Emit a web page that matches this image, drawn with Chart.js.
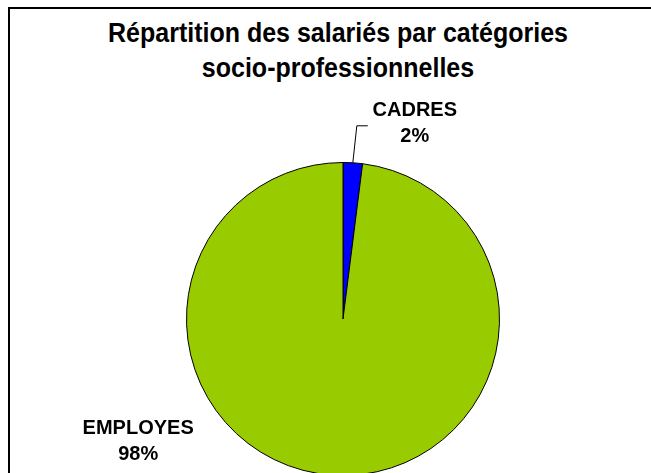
<!DOCTYPE html>
<html lang="fr">
<head>
<meta charset="utf-8">
<title>Répartition des salariés</title>
<script src="https://cdn.jsdelivr.net/npm/chart.js@4/dist/chart.umd.min.js"></script>
<style>
    html, body { margin: 0; padding: 0; background: #fff; overflow: hidden; }
    body { width: 651px; height: 473px; position: relative; }
    .frame {
        position: absolute; left: 8px; top: 7px; width: 700px; height: 520px;
        border-top: 2px solid #000; border-left: 2px solid #000;
    }
    .chart-title {
        position: absolute; left: 0; top: 15px; width: 676px;
        text-align: center; font: bold 25px "Liberation Sans", Arial, sans-serif;
        line-height: 32px; color: #000;
        transform: scaleY(1.08); transform-origin: top center;
    }
    #pieChart { position: absolute; left: 0; top: 0; }
</style>
</head>
<body>
<div class="frame"></div>
<div class="chart-title">Répartition des salariés par catégories<br>socio-professionnelles</div>
<canvas id="pieChart" width="651" height="490"></canvas>
<script>
// ========== 数据 ==========
const categories = ['CADRES', 'EMPLOYES'];
const shares = [2, 98];
const sliceColors = ['#0000FF', '#99CC00'];

// 标签相对扇区外缘中点的偏移（样式）
const labelOffsets = [
    { dx: 62, dy: -39, leader: true },
    { dx: -195, dy: -34, leader: false }
];

// ========== 扇区标签 ==========
const sliceLabels = {
    id: 'sliceLabels',
    afterDatasetsDraw(chart) {
        const ctx = chart.ctx;
        const meta = chart.getDatasetMeta(0);
        const total = shares.reduce((a, b) => a + b, 0);
        ctx.save();
        ctx.font = 'bold 20px "Liberation Sans", Arial, sans-serif';
        ctx.fillStyle = '#000';
        ctx.textAlign = 'center';
        ctx.textBaseline = 'middle';
        meta.data.forEach((arc, i) => {
            const mid = (arc.startAngle + arc.endAngle) / 2;
            const ox = arc.x + Math.cos(mid) * arc.outerRadius;
            const oy = arc.y + Math.sin(mid) * arc.outerRadius;
            const off = labelOffsets[i];
            const lx = ox + off.dx;
            const ly = oy + off.dy;

            if (off.leader) {
                ctx.strokeStyle = '#000';
                ctx.lineWidth = 1;
                ctx.beginPath();
                ctx.moveTo(ox, oy);
                ctx.lineTo(ox + 4, oy - 37);
                ctx.lineTo(ox + 15, oy - 37);
                ctx.stroke();
            }

            const pct = Math.round(shares[i] / total * 100) + '%';
            ctx.fillText(categories[i], lx, ly - 13);
            ctx.fillText(pct, lx, ly + 13);
        });
        ctx.restore();
    }
};

// ========== 饼图 ==========
const ctx = document.getElementById('pieChart').getContext('2d');
new Chart(ctx, {
    type: 'pie',
    data: {
        labels: categories,
        datasets: [{
            data: shares,
            backgroundColor: sliceColors,
            borderColor: '#000',
            borderWidth: 1
        }]
    },
    options: {
        responsive: false,
        animation: false,
        devicePixelRatio: 1,
        layout: { padding: { top: 162, left: 186, right: 151, bottom: 14 } },
        plugins: {
            legend: { display: false },
            tooltip: { enabled: false },
            title: { display: false }
        }
    },
    plugins: [sliceLabels]
});
</script>
</body>
</html>
